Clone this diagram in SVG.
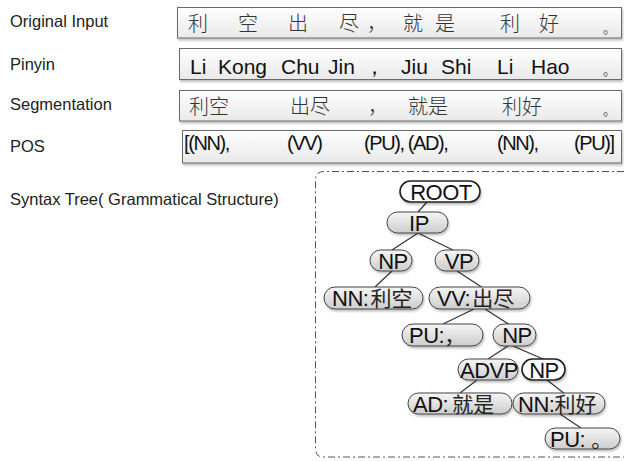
<svg xmlns="http://www.w3.org/2000/svg" width="624" height="461" viewBox="0 0 624 461">
<defs>
<linearGradient id="gPill" x1="0" y1="0" x2="0" y2="1">
<stop offset="0" stop-color="#f6f6f6"/><stop offset="1" stop-color="#cdcdcd"/>
</linearGradient>
<linearGradient id="gRow" x1="0" y1="0" x2="0" y2="1">
<stop offset="0" stop-color="#ffffff"/><stop offset="1" stop-color="#e9e9e9"/>
</linearGradient>
<filter id="sh" x="-10%" y="-20%" width="120%" height="160%">
<feDropShadow dx="1" dy="2" stdDeviation="1.2" flood-color="#000" flood-opacity="0.25"/>
</filter>
</defs>
<style>
.lbl{font-family:"Liberation Sans",Arial,sans-serif;font-size:16.5px;fill:#222}
.row{fill:url(#gRow);stroke:#6a6a6a;stroke-width:1;filter:url(#sh)}
.cjk{font-family:"Noto Sans CJK SC","Noto Sans",sans-serif;font-size:20px;fill:#333;font-weight:300}
.dot{font-family:"Noto Sans CJK SC",sans-serif;font-size:13px;fill:#555}
.lat{font-family:"Liberation Sans",Arial,sans-serif;font-size:21px;fill:#111}
.pos{font-family:"Liberation Sans",Arial,sans-serif;font-size:20px;fill:#111;letter-spacing:-1.4px}
.pill{fill:url(#gPill);stroke:#444;stroke-width:1;filter:url(#sh)}
.pillw{fill:#fff;stroke:#222;stroke-width:1.6;filter:url(#sh)}
.nt{font-family:"Liberation Sans",Arial,"Noto Sans CJK SC",sans-serif;font-size:22px;fill:#111;letter-spacing:-0.5px}
.ntc{font-family:"Noto Sans CJK SC",sans-serif;font-size:21px;fill:#222;letter-spacing:0}
.edge{stroke:#333;stroke-width:1.2;fill:none}
.frame{fill:none;stroke:#555;stroke-width:1;stroke-dasharray:7 3 2 3}
</style>

<g id="labels">
<text class="lbl" x="10" y="27">Original Input</text>
<text class="lbl" x="10" y="70">Pinyin</text>
<text class="lbl" x="10" y="110">Segmentation</text>
<text class="lbl" x="10" y="152">POS</text>
<text class="lbl" x="10" y="205">Syntax Tree( Grammatical Structure)</text>
</g>

<g id="row-original">
<rect class="row" x="177.5" y="7.5" width="444" height="30.5"/>
<text class="cjk" y="31"><tspan x="188">利</tspan><tspan x="238">空</tspan><tspan x="288">出</tspan><tspan x="339">尽</tspan><tspan x="367">，</tspan><tspan x="403">就</tspan><tspan x="435">是</tspan><tspan x="500">利</tspan><tspan x="539">好</tspan></text>
<text class="dot" x="603" y="33">。</text>
</g>

<g id="row-pinyin">
<rect class="row" x="179.5" y="48.5" width="442" height="31"/>
<text class="lat" y="74"><tspan x="190">Li</tspan><tspan x="218">Kong</tspan><tspan x="281">Chu</tspan><tspan x="328">Jin</tspan><tspan x="364">，</tspan><tspan x="401">Jiu</tspan><tspan x="441">Shi</tspan><tspan x="497">Li</tspan><tspan x="531">Hao</tspan></text>
<text class="dot" x="603" y="75">。</text>
</g>

<g id="row-segmentation">
<rect class="row" x="179.5" y="90.5" width="442" height="30.5"/>
<text class="cjk" y="114"><tspan x="189">利空</tspan><tspan x="290">出尽</tspan><tspan x="368">，</tspan><tspan x="408">就是</tspan><tspan x="502">利好</tspan></text>
<text class="dot" x="603" y="115">。</text>
</g>

<g id="row-pos">
<rect class="row" x="182.5" y="130.5" width="439" height="32.5"/>
<text class="pos" y="150"><tspan x="184">[(NN),</tspan><tspan x="287">(VV)</tspan><tspan x="364">(PU), (AD),</tspan><tspan x="497">(NN),</tspan><tspan x="574">(PU)]</tspan></text>
</g>

<path id="tree-frame" class="frame" d="M624 171.5 H324 Q315.5 171.5 315.5 180 V449 Q315.5 457 323 457 H624"/>

<g id="connectors">
<line class="edge" x1="427" y1="202" x2="418" y2="212"/>
<line class="edge" x1="418" y1="233" x2="392" y2="250"/>
<line class="edge" x1="418" y1="233" x2="455" y2="251"/>
<line class="edge" x1="392" y1="271" x2="375" y2="287"/>
<line class="edge" x1="457" y1="271" x2="483" y2="288"/>
<line class="edge" x1="474" y1="309" x2="443" y2="324"/>
<line class="edge" x1="485" y1="309" x2="510" y2="325"/>
<line class="edge" x1="508" y1="346" x2="488" y2="359"/>
<line class="edge" x1="513" y1="346" x2="543" y2="359"/>
<line class="edge" x1="477" y1="380" x2="460" y2="393"/>
<line class="edge" x1="547" y1="380" x2="565" y2="394"/>
<line class="edge" x1="560" y1="414" x2="581" y2="428"/>
</g>

<g id="n-root"><rect class="pillw" x="400" y="181" width="80" height="21" rx="10.5"/><text class="nt" x="441" y="199.5" text-anchor="middle">ROOT</text></g>
<g id="n-ip"><rect class="pill" x="387" y="212" width="61" height="21" rx="10.5"/><text class="nt" x="419" y="230.5" text-anchor="middle">IP</text></g>
<g id="n-np1"><rect class="pill" x="370" y="250" width="42" height="21" rx="10.5"/><text class="nt" x="393" y="268.5" text-anchor="middle">NP</text></g>
<g id="n-vp"><rect class="pill" x="435" y="250" width="44" height="21" rx="10.5"/><text class="nt" x="459" y="268.5" text-anchor="middle">VP</text></g>
<g id="n-nn1"><rect class="pill" x="324" y="287" width="99" height="22" rx="11"/><text class="nt" x="332" y="306">NN:<tspan class="ntc" dx="2">利空</tspan></text></g>
<g id="n-vv"><rect class="pill" x="429" y="287" width="101" height="22" rx="11"/><text class="nt" x="437" y="306">VV:<tspan class="ntc" dx="2">出尽</tspan></text></g>
<g id="n-pu1"><rect class="pill" x="402" y="324" width="81" height="22" rx="11"/><text class="nt" x="409" y="343">PU:<tspan class="ntc" dx="0">，</tspan></text></g>
<g id="n-np2"><rect class="pill" x="493" y="324" width="43" height="22" rx="11"/><text class="nt" x="517" y="343" text-anchor="middle">NP</text></g>
<g id="n-advp"><rect class="pill" x="458" y="359" width="60" height="21" rx="10.5"/><text class="nt" x="489" y="377.5" text-anchor="middle">ADVP</text></g>
<g id="n-np3"><rect class="pillw" x="522" y="359" width="43" height="21" rx="10.5"/><text class="nt" x="544" y="377.5" text-anchor="middle">NP</text></g>
<g id="n-ad"><rect class="pill" x="408" y="393" width="104" height="21" rx="10.5"/><text class="nt" x="413" y="411.5">AD:<tspan class="ntc" dx="4">就是</tspan></text></g>
<g id="n-nn2"><rect class="pill" x="513" y="393" width="92" height="21" rx="10.5"/><text class="nt" x="518" y="411.5">NN:<tspan class="ntc" dx="0">利好</tspan></text></g>
<g id="n-pu2"><rect class="pill" x="545" y="428" width="75" height="21" rx="10.5"/><text class="nt" x="550" y="446.5">PU:<tspan class="ntc" dx="6">。</tspan></text></g>
</svg>
